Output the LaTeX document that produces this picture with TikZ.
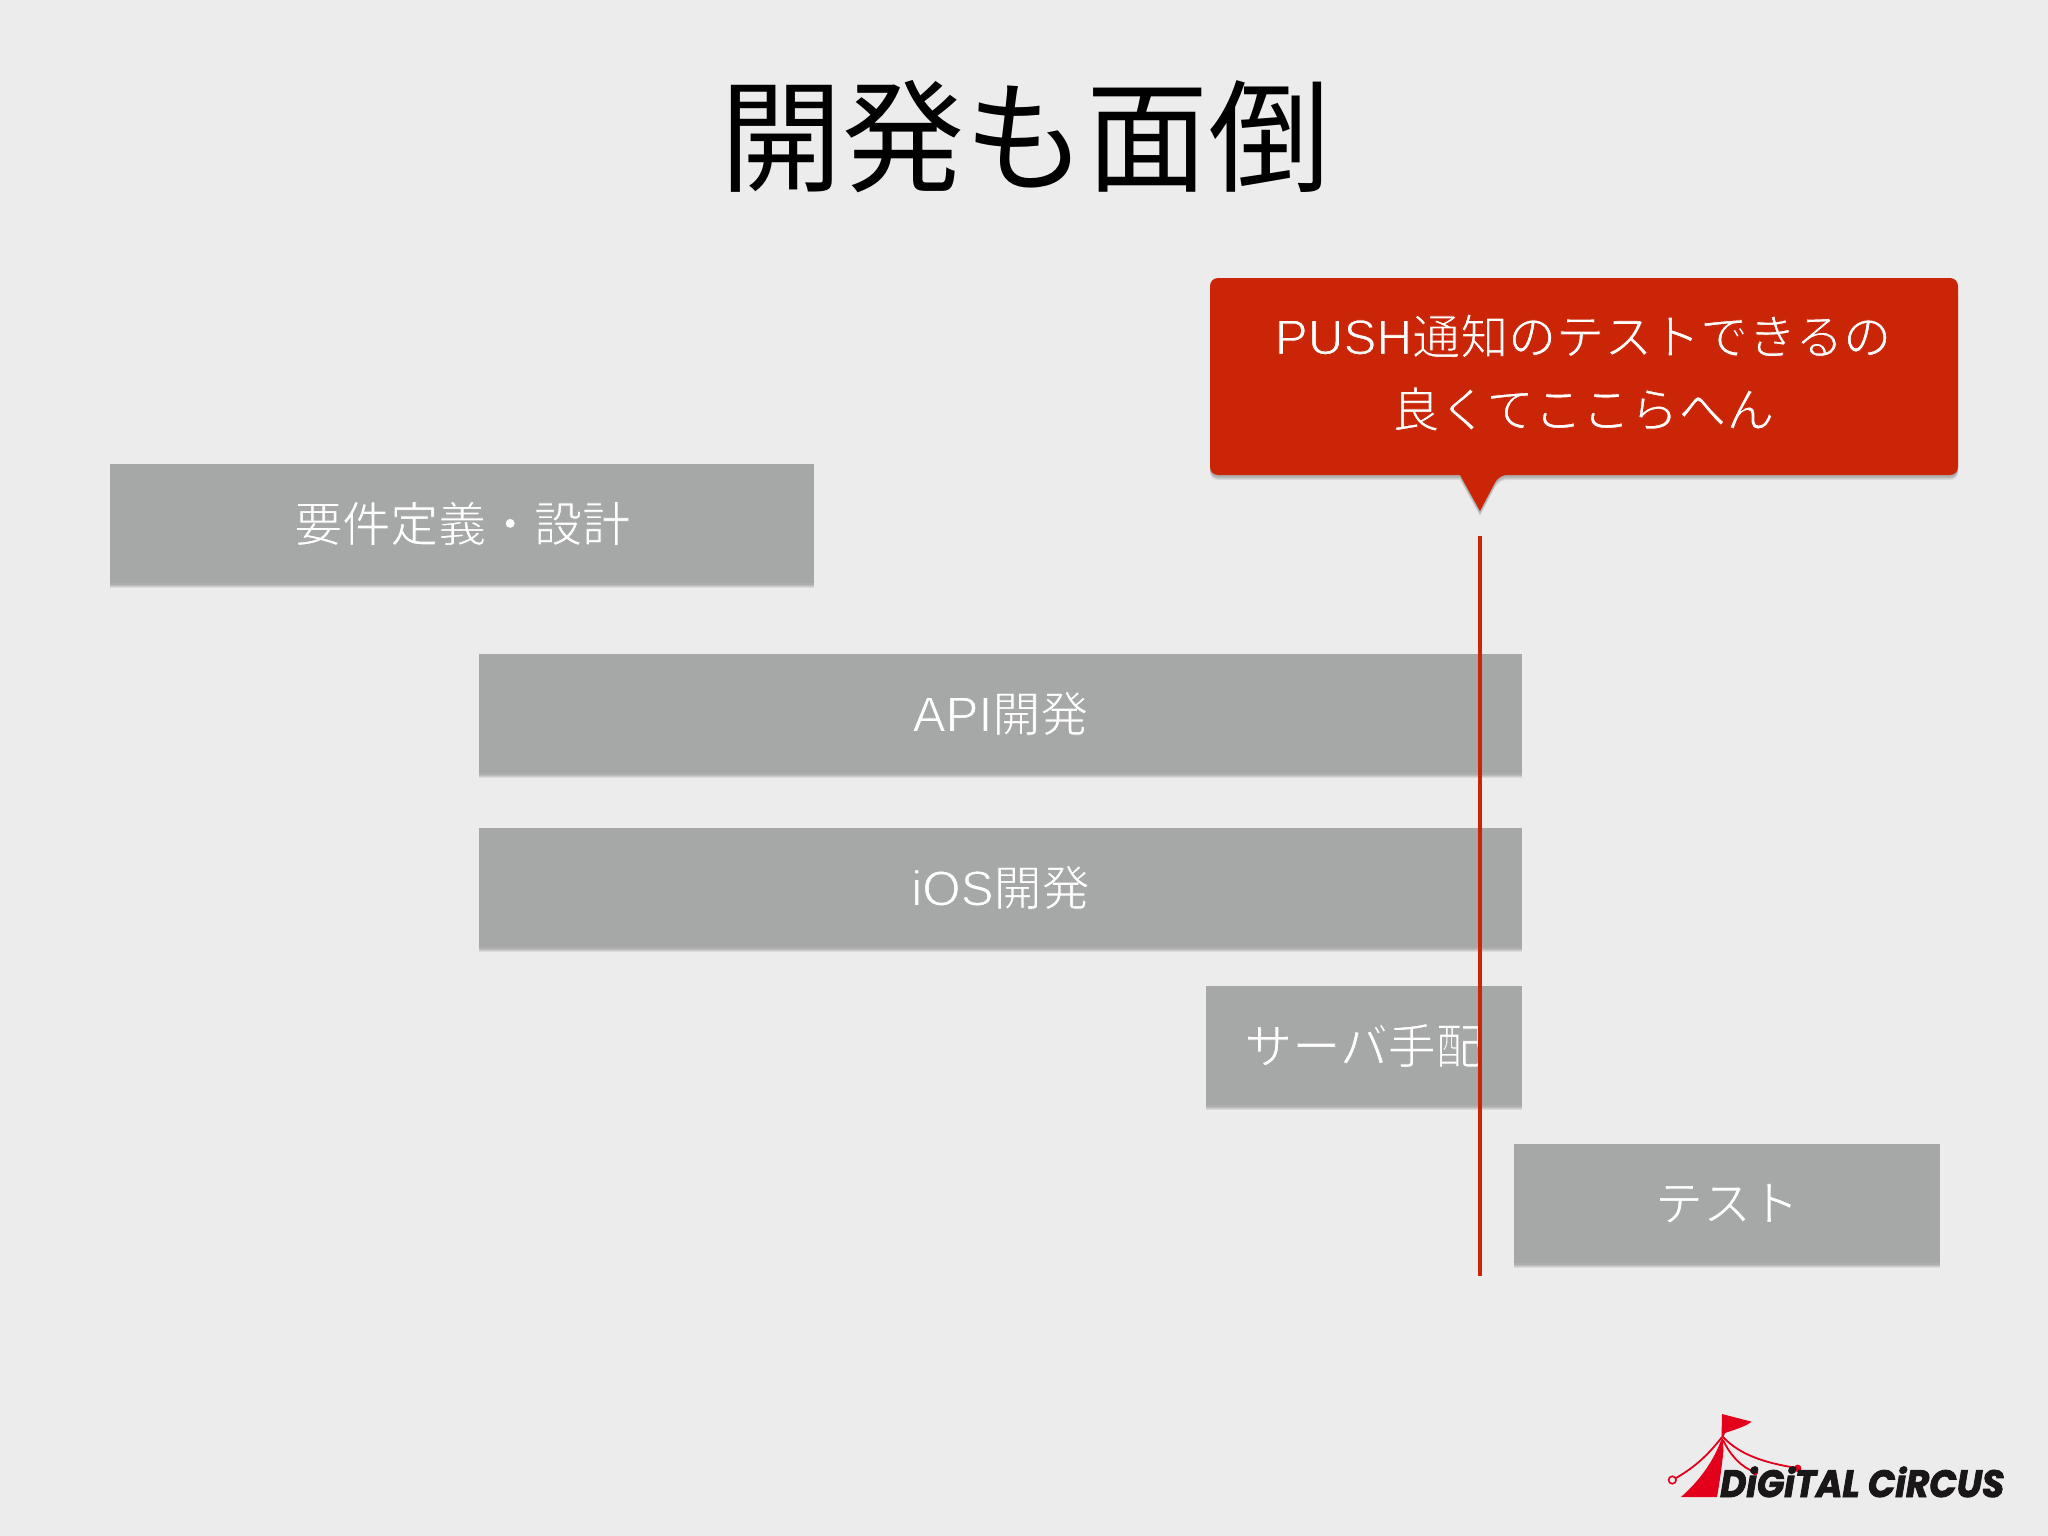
\documentclass[tikz,border=0pt]{standalone}
\usepackage{fontspec}
\usepackage{graphicx}
\usetikzlibrary{shadows}
\setmainfont{Noto Sans CJK JP}
\newfontfamily\lat[Scale=1.03]{Liberation Sans}
\newfontfamily\logofont{Poppins}
\definecolor{pagebg}{HTML}{ECECED}
\definecolor{boxgrey}{HTML}{A6A8A7}
\definecolor{callred}{HTML}{C92506}
\definecolor{logored}{HTML}{E2001A}
\definecolor{logoblack}{HTML}{1A1718}
% thin the glyphs by stroking their outlines in the colour behind them
\newcommand{\thinon}[2]{\special{pdf:code 2 Tr #1 w #2 RG}}
\newcommand{\thinoff}{\special{pdf:code 0 Tr 0 w}}
\newcommand{\greytxt}[1]{\color{white}\thinon{0.9}{0.651 0.659 0.655}#1\thinoff}
\newcommand{\redtxt}[1]{\color{white}\thinon{0.9}{0.788 0.145 0.024}#1\thinoff}
\tikzset{
  shadowlayer/.style={drop shadow={shadow xshift=0pt,shadow yshift=-#1pt,fill=black,opacity=.07}},
  softshadow/.style={shadowlayer=5,shadowlayer=4,shadowlayer=3,shadowlayer=2},
  barbox/.style={rectangle,fill=boxgrey,inner sep=0pt,anchor=north west,font=\fontsize{48}{48}\selectfont,minimum height=118.5pt,softshadow},
  calltext/.style={font=\fontsize{48}{48}\selectfont},
}
\begin{document}
\begin{tikzpicture}[x=1pt,y=-1pt]
\useasboundingbox (0,0) rectangle (2048,1536);
\fill[pagebg] (0,0) rectangle (2048,1536);
\node[font=\fontsize{122}{122}\selectfont,text=black] (title) at (1025,137) {開発も面倒};
% callout
\path[fill=callred,softshadow] [rounded corners=8pt] (1210,278) -- (1958,278) -- (1958,475) -- (1499,475) [sharp corners] -- (1480,511) -- (1460,475) [rounded corners=8pt] -- (1210,475) -- cycle;
\node[calltext] (push) at (1583,336) {\redtxt{{\lat PUSH}通知のテストできるの}};
\node[calltext] (here) at (1583,409) {\redtxt{良くてここらへん}};
% bars
\node[barbox,minimum width=704pt] (req) at (110,464) {\greytxt{要件定義・設計}};
\node[barbox,minimum width=1042.5pt] (api) at (479,654) {\greytxt{{\lat API}開発}};
\node[barbox,minimum width=1042.5pt] (ios) at (479,828) {\greytxt{{\lat iOS}開発}};
\node[barbox,minimum width=315.5pt] (srv) at (1206,986) {\greytxt{サーバ手配}};
\node[barbox,minimum width=426.5pt] (tst) at (1513.5,1144) {\greytxt{テスト}};
% today line
\coordinate (linetop) at (1480,536);
\coordinate (linebot) at (1480,1276);
\draw[callred,line width=3.5pt] (linetop) -- (linebot);
% logo
\fill[logored] (1722,1414) -- (1751.7,1421.7) .. controls (1745,1427) and (1733,1430) .. (1725,1433) -- (1723.5,1437) -- (1721.5,1437) -- cycle;
\fill[logored] (1722.5,1436) .. controls (1714,1462) and (1698,1482) .. (1681,1497) -- (1717,1497) .. controls (1720,1480) and (1722,1465) .. (1723.5,1450) -- cycle;
\draw[logored,line width=1.8pt] (1722,1437) .. controls (1708,1455) and (1695,1467) .. (1676,1478);
\draw[logored,line width=1.8pt] (1723,1437) .. controls (1740,1455) and (1765,1463) .. (1797,1468);
\draw[logored,line width=1.8pt] (1723,1440) .. controls (1730,1455) and (1742,1468) .. (1755,1472);
\node[circle,draw=logored,line width=1.6pt,fill=pagebg,inner sep=0pt,minimum size=7.5pt] (ring) at (1672.3,1480) {};
\node[circle,fill=logored,inner sep=0pt,minimum size=7.5pt] (dota) at (1797.7,1468.3) {};
\node[circle,fill=logored,inner sep=0pt,minimum size=6.5pt] (dotb) at (1755,1472) {};
\node[anchor=base west,inner sep=0pt,text=logoblack,font=\logofont\bfseries\itshape\fontsize{38}{38}\selectfont] (logo) at (1720,1497) {\scalebox{.945}[1]{\thinon{0.9}{0.102 0.09 0.094}DiGiTAL CiRCUS\thinoff}};
\end{tikzpicture}
\end{document}
